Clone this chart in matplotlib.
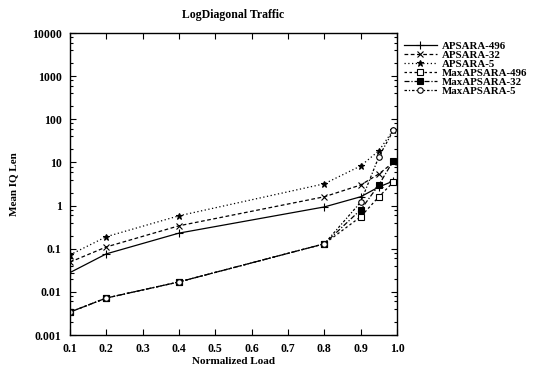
import matplotlib
matplotlib.use("Agg")
import matplotlib.pyplot as plt
from matplotlib.ticker import FixedLocator, LogLocator, NullFormatter

load = [0.1, 0.2, 0.4, 0.8, 0.9, 0.95, 0.99]

apsara_496 = [0.028, 0.076, 0.23, 0.93, 1.6, 2.7, 3.7]
apsara_32 = [0.049, 0.11, 0.34, 1.6, 3.0, 5.4, 10.0]
apsara_5 = [0.072, 0.19, 0.58, 3.2, 8.3, 18.6, 57.0]
max_apsara_496 = [0.0034, 0.0072, 0.017, 0.13, 0.55, 1.6, 3.5]
max_apsara_32 = [0.0034, 0.0072, 0.017, 0.13, 0.8, 3.0, 11.0]
max_apsara_5 = [0.0034, 0.0072, 0.017, 0.13, 1.2, 13.5, 55.0]

labels = ["APSARA-496", "APSARA-32", "APSARA-5",
          "MaxAPSARA-496", "MaxAPSARA-32", "MaxAPSARA-5"]
xticks = [0.1, 0.2, 0.3, 0.4, 0.5, 0.6, 0.7, 0.8, 0.9, 1.0]
xticklabels = ["0.1", "0.2", "0.3", "0.4", "0.5", "0.6", "0.7", "0.8", "0.9", "1.0"]
yticks = [0.001, 0.01, 0.1, 1, 10, 100, 1000, 10000]
yticklabels = ["0.001", "0.01", "0.1", "1", "10", "100", "1000", "10000"]

plt.rcParams['font.family'] = ['Liberation Serif', 'DejaVu Serif']

fig = plt.figure(figsize=(5.37, 3.66), dpi=100)
ax = fig.add_axes([70/537, 1-335/366, (397-70)/537, (335-33)/366])

series = [apsara_496, apsara_32, apsara_5, max_apsara_496, max_apsara_32, max_apsara_5]
styles = [
    dict(linestyle='-', marker='+', ms=6, mfc='black'),
    dict(linestyle=(0, (3, 2)), marker='x', ms=4, mfc='black'),
    dict(linestyle=(0, (1, 2)), marker='*', ms=5, mfc='black'),
    dict(linestyle=(0, (2, 2)), marker='s', ms=4, mfc='white'),
    dict(linestyle=(0, (4, 1.5, 1, 1.5)), marker='s', ms=5, mfc='black'),
    dict(linestyle=(0, (2, 1.5, 1, 1.5)), marker='o', ms=4, mfc='white'),
]
for vals, lab, st in zip(series, labels, styles):
    ax.plot(load, vals, color='black', lw=0.9, mec='black', mew=0.8, label=lab, **st)

ax.set_yscale('log')
ax.set_xlim(0.1, 1.0)
ax.set_ylim(0.001, 10000)
ax.xaxis.set_major_locator(FixedLocator(xticks))
ax.set_xticklabels(xticklabels, fontsize=8.5, fontweight='bold')
ax.yaxis.set_major_locator(FixedLocator(yticks))
ax.set_yticklabels(yticklabels, fontsize=8.5, fontweight='bold')
ax.yaxis.set_minor_locator(LogLocator(base=10, subs=[2, 4, 6, 8], numticks=20))
ax.yaxis.set_minor_formatter(NullFormatter())
ax.tick_params(which='both', direction='in', top=True, right=True, width=0.8)
ax.tick_params(which='major', length=4, pad=6)
ax.tick_params(which='minor', length=2)
for s in ax.spines.values():
    s.set_linewidth(1.0)

ax.set_xlabel("Normalized Load", fontsize=8, fontweight='bold', labelpad=1)
ax.set_ylabel("Mean IQ Len", fontsize=8, fontweight='bold', labelpad=10)
fig.text(233/537, 1-15/366, "LogDiagonal Traffic", fontsize=8.5, fontweight='bold',
         ha='center', va='center')

fig.legend(loc='upper left', bbox_to_anchor=(404/537, 1-41/366), frameon=False,
           handlelength=3.0, handletextpad=0.5, labelspacing=-0.05,
           borderaxespad=0, borderpad=0, prop={'weight': 'bold', 'size': 7.8})

fig.savefig("out.png", dpi=100)
